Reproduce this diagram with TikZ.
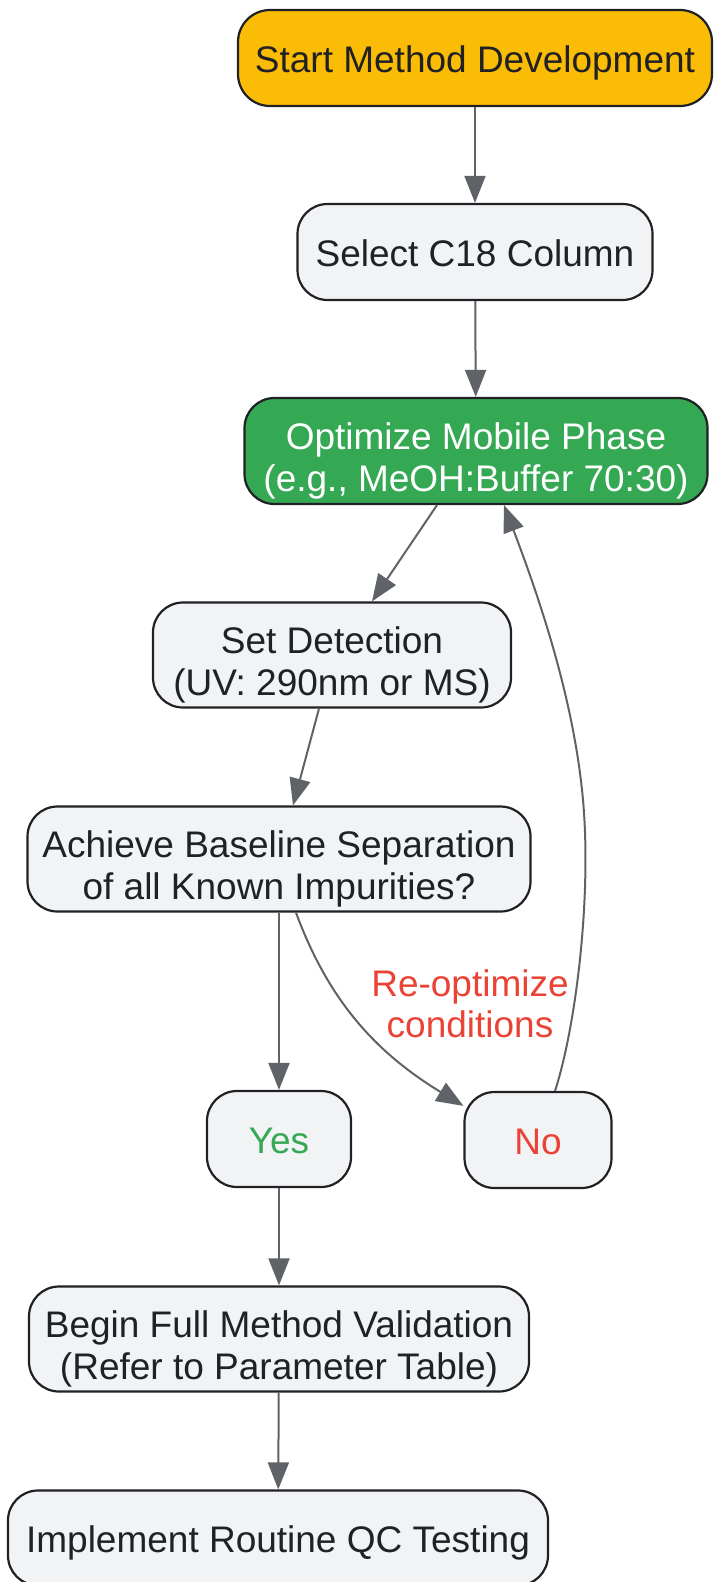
\documentclass[tikz,border=0pt]{standalone}
\usepackage{fontspec}
\setmainfont{Liberation Sans}
\usetikzlibrary{arrows.meta,positioning}
\definecolor{boxgray}{HTML}{F1F3F4}
\definecolor{startyellow}{HTML}{FBBC05}
\definecolor{optgreen}{HTML}{34A853}
\definecolor{inkdark}{HTML}{202124}
\definecolor{edgegray}{HTML}{5F6368}
\definecolor{nored}{HTML}{EA4335}

\tikzset{
  box/.style={draw=inkdark, line width=2.2pt, fill=boxgray, rounded corners=30pt,
    align=center, text=inkdark, inner sep=0pt, font=\fontsize{37}{41.5}\selectfont,
    text height=32pt, text depth=2.5pt},
  twoline/.style={text height=82.5pt, text depth=2.5pt},
  flow/.style={draw=edgegray, line width=2pt, -{Triangle[length=27pt,width=21pt]}},
  edgelabel/.style={align=center, text=nored, font=\fontsize{37}{41}\selectfont},
}

\begin{document}
\begin{tikzpicture}[%
      x=1pt, y=-1pt,
      ]
      \useasboundingbox (0,0) rectangle (713,1582);

      \node[box, fill=startyellow, minimum width=474pt, minimum height=96pt, rounded corners=32pt] (start) at (475,58) {Start Method Development};
      \node[box, minimum width=355pt, minimum height=96pt] (select) at (475,252) {Select C18 Column};
      \node[box, twoline, fill=optgreen, text=white, minimum width=463pt, minimum height=106pt] (optimize) at (476,451) {Optimize Mobile Phase\\(e.g., MeOH:Buffer 70:30)};
      \node[box, twoline, minimum width=358pt, minimum height=105pt] (detect) at (332,655) {Set Detection\\(UV: 290nm or MS)};
      \node[box, twoline, minimum width=503pt, minimum height=105pt] (achieve) at (279,859) {Achieve Baseline Separation\\of all Known Impurities?};
      \node[box, text=optgreen, minimum width=144pt, minimum height=96pt] (yes) at (279,1139) {Yes};
      \node[box, text=nored, minimum width=147pt, minimum height=96pt] (no) at (538,1140) {No};
      \node[box, twoline, minimum width=500pt, minimum height=105pt] (begin) at (279,1339) {Begin Full Method Validation\\(Refer to Parameter Table)};
      \node[box, minimum width=540pt, minimum height=95pt] (implement) at (278,1538) {Implement Routine QC Testing};

      \node[edgelabel] (reoptlabel) at (470,1004) {Re-optimize\\conditions};

      \draw[flow] (start) -- (select);
      \draw[flow] (select) -- (optimize);
      \draw[flow] ([xshift=-39pt]optimize.south) -- ([xshift=40pt]detect.north);
      \draw[flow] ([xshift=-13pt]detect.south) -- ([xshift=14pt]achieve.north);
      \draw[flow] (achieve) -- (yes);
      \draw[flow] ([xshift=17pt]achieve.south) .. controls (330,1005) and (380,1055) .. ([yshift=-15pt]no.north west);
      \draw[flow] ([xshift=17pt]no.north) .. controls (575,1030) and (592,900) .. (583,800)
                  .. controls (574,700) and (540,600) .. ([xshift=28pt]optimize.south);
      \draw[flow] (yes) -- (begin);
      \draw[flow] (begin) -- (implement);
      \end{tikzpicture}
\end{document}
